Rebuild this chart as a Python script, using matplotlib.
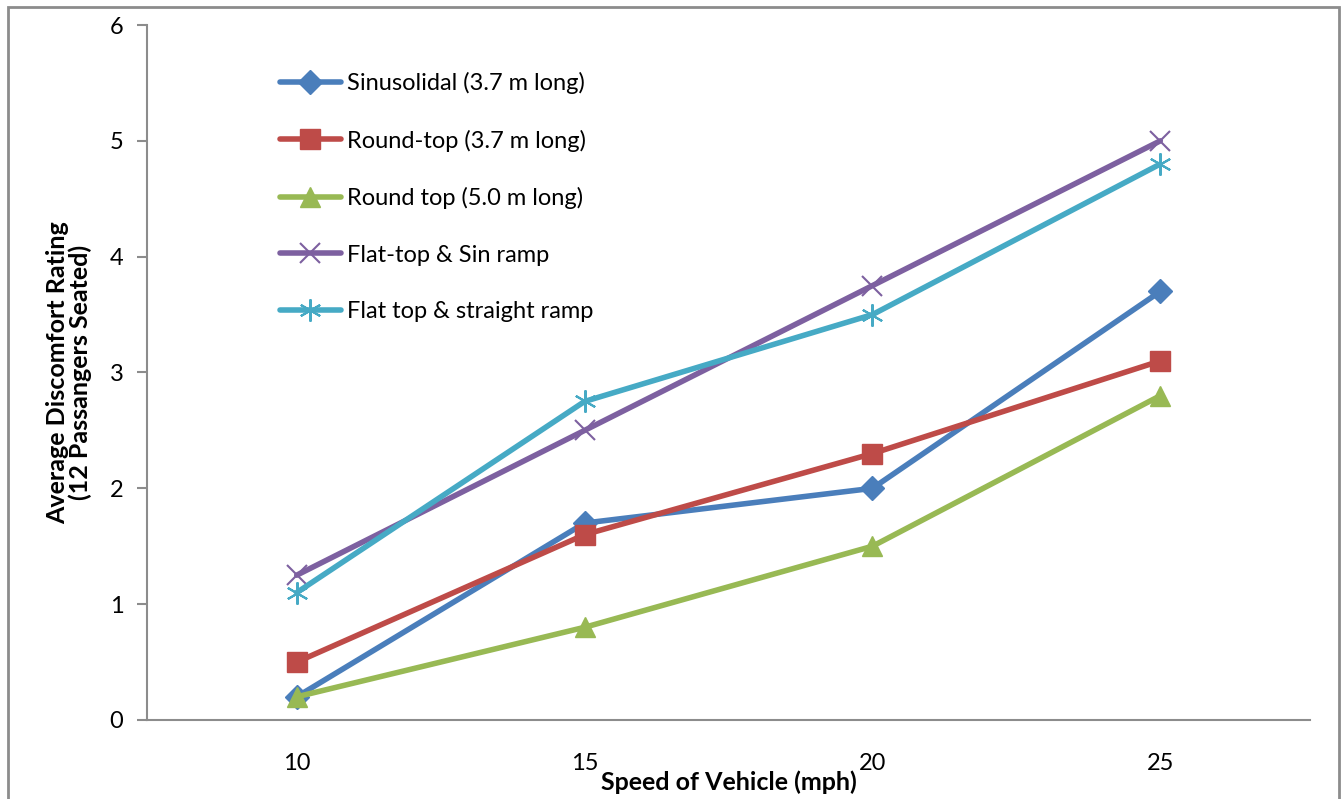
import matplotlib
matplotlib.use("Agg")
import matplotlib.pyplot as plt
from matplotlib.patches import Rectangle

plt.rcParams['font.family'] = ['Lato', 'DejaVu Sans']

speeds = ["10", "15", "20", "25"]
sinusoidal = [0.2, 1.7, 2.0, 3.7]
round_top_37 = [0.5, 1.6, 2.3, 3.1]
round_top_50 = [0.2, 0.8, 1.5, 2.8]
flat_sin = [1.25, 2.5, 3.75, 5.0]
flat_straight = [1.1, 2.75, 3.5, 4.8]

series = [
    ("Sinusolidal (3.7 m long)", sinusoidal, "#4A7EBB", "D", 12, None),
    ("Round-top (3.7 m long)", round_top_37, "#BE4B48", "s", 14, None),
    ("Round top (5.0 m long)", round_top_50, "#98B954", "^", 15, None),
    ("Flat-top & Sin ramp", flat_sin, "#7D60A0", "x", 14, 1.5),
    ("Flat top & straight ramp", flat_straight, "#46AAC5", (6, 2, 0), 16, 1.5),
]

fig = plt.figure(figsize=(13.44, 7.99), dpi=100)
ax = fig.add_axes([0.1094, 0.0989, 0.8653, 0.8698])

x = list(range(len(speeds)))
for label, vals, color, marker, ms, mew in series:
    ax.plot(x, vals, color=color, lw=4, marker=marker, markersize=ms,
            markeredgewidth=mew if mew else 1, markeredgecolor=color,
            markerfacecolor=color, label=label, solid_capstyle="round")

ax.set_xlim(-0.52, 3.52)
ax.set_ylim(0, 6)
ax.set_xticks(x)
ax.set_xticklabels(speeds)
ax.set_yticks(range(7))

for side in ("top", "right"):
    ax.spines[side].set_visible(False)
for side in ("left", "bottom"):
    ax.spines[side].set_color("#8C8C8C")
    ax.spines[side].set_linewidth(1.5)

ax.tick_params(axis="x", length=0, pad=24, labelsize=17)
ax.tick_params(axis="y", length=7, width=1.5, color="#8C8C8C", pad=10,
               labelsize=17)

ax.set_xlabel("Speed of Vehicle (mph)", fontsize=18, fontweight="bold")
ax.xaxis.set_label_coords(0.5, -0.072)
ax.set_ylabel("Average Discomfort Rating\n(12 Passangers Seated)",
              fontsize=18, fontweight="bold", linespacing=1.0)
ax.yaxis.set_label_coords(-0.047, 0.5)

leg = ax.legend(loc="upper left", bbox_to_anchor=(0.106, 0.946), frameon=False,
                fontsize=17, handlelength=2.6, handletextpad=0.25,
                labelspacing=1.5, borderaxespad=0)

# outer chart border
fig.add_artist(Rectangle((8 / 1344, -0.05), 1331 / 1344, 1.05 - 7 / 799,
                         transform=fig.transFigure, fill=False,
                         edgecolor="#8C8C8C", lw=2, clip_on=False))

fig.savefig("out.png", dpi=100)
